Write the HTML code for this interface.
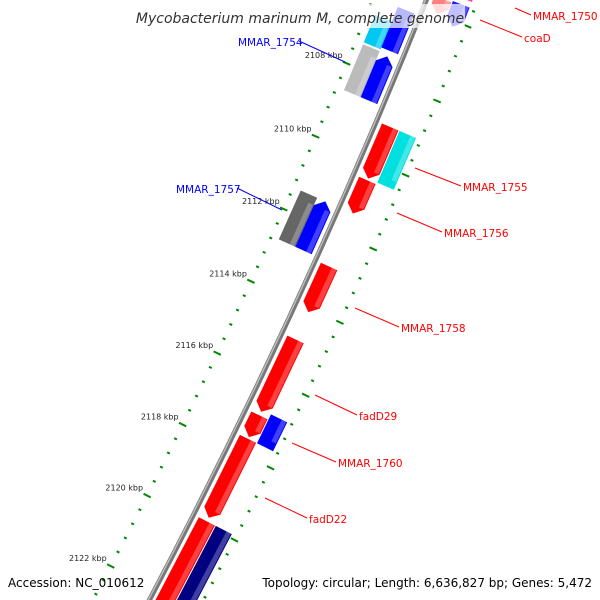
<!DOCTYPE html>
<html><head><meta charset="utf-8"><style>
html,body{margin:0;padding:0;background:#fff;width:600px;height:600px;overflow:hidden}
svg{display:block;font-family:"DejaVu Sans","Liberation Sans",sans-serif;overflow:hidden}
</style></head><body>
<svg id="map" width="600" height="600" viewBox="0 0 600 600" xmlns="http://www.w3.org/2000/svg">
<g id="ticks"></g>
<circle cx="-5484" cy="-2365" r="6366" fill="none" stroke="#777" stroke-width="5"/>
<circle cx="-5484" cy="-2365" r="6365" fill="none" stroke="#bbb" stroke-width="1.5"/>
<g id="feats"></g>
<g id="labels"></g>
<rect x="135" y="4" width="330" height="24" fill="#fff" opacity="0.72"/>
<text x="300" y="23" text-anchor="middle" font-size="14" font-style="oblique" fill="#333">Mycobacterium marinum M, complete genome</text>
<text x="8" y="587" font-size="12" fill="#000">Accession: NC_010612</text>
<text x="592" y="587" text-anchor="end" font-size="12" fill="#000">Topology: circular; Length: 6,636,827 bp; Genes: 5,472</text>
</svg>
<script>
const featStart=[2105.6,2109.05,2110.5,2112.85,2114.85,2116.95,2117.6,2119.9,2105.55,2109.05,2116.8,2119.9,2106.2,2107.45,2111.4,2106.6,2107.4,2111.4,2104.5];
const featEnd=[2106.0,2110.45,2111.4,2114.1,2116.85,2117.55,2119.8,2124.0,2106.15,2110.45,2117.6,2124.0,2107.3,2108.65,2112.75,2107.35,2108.65,2112.75,2105.4];
const featTrack=[1,1,1,1,1,1,1,1,2,2,2,2,-1,-1,-1,-2,-2,-2,2];
const featColor=["#ff8080","#ff0000","#ff0000","#ff0000","#ff0000","#ff0000","#ff0000","#ff0000","#2020ff","#00e0e0","#0000ff","#000080","#0000ff","#0000ff","#0000ff","#00c8f0","#bbbbbb","#666666","#ff40c0"];
const featArrow=[1,1,1,1,1,1,1,0,1,0,0,0,0,1,1,0,0,0,0];
const tickMajor=[2104,2106,2108,2110,2112,2114,2116,2118,2120,2122,2124];
const tickLabels=["2104 kbp","2106 kbp","2108 kbp","2110 kbp","2112 kbp","2114 kbp","2116 kbp","2118 kbp","2120 kbp","2122 kbp","2124 kbp"];
const labelText=["MMAR_1750","coaD","MMAR_1754","MMAR_1755","MMAR_1756","MMAR_1757","MMAR_1758","fadD29","MMAR_1760","fadD22"];
const labelColor=["#f00","#f00","#00f","#f00","#f00","#00f","#f00","#f00","#f00","#f00"];
const labelPos=[[533,20,515,8],[524,42,480,20],[238,46,345,62],[463,191,415,168],[444,237,397,213],[176,193,282,210],[401,332,355,308],[359,420,315,395],[338,467,292,443],[309,523,265,498]];

const CX=-5484,CY=-2365,R0=6366,NS="http://www.w3.org/2000/svg";
function ang(p){return (26.93+(p-2120)*0.36)*Math.PI/180;}
function pt(p,r){const a=ang(p);return [CX+r*Math.cos(a),CY+r*Math.sin(a)];}
function mk(tag,attrs,parent){const e=document.createElementNS(NS,tag);for(const k in attrs)e.setAttribute(k,attrs[k]);parent.appendChild(e);return e;}
const trackR={1:15,2:34,"-1":-15,"-2":-33};
const W=18,H=0.2;
const fg=document.getElementById('feats');
for(let i=0;i<featStart.length;i++){
  const s=featStart[i],e=featEnd[i],t=featTrack[i],r=R0+trackR[t];
  const fwd=t>0;let pts;
  if(!featArrow[i]) pts=[pt(s,r-W/2),pt(e,r-W/2),pt(e,r+W/2),pt(s,r+W/2)];
  else if(fwd) pts=[pt(s,r-W/2),pt(e-H,r-W/2),pt(e,r),pt(e-H,r+W/2),pt(s,r+W/2)];
  else pts=[pt(s+H,r-W/2),pt(e,r-W/2),pt(e,r+W/2),pt(s+H,r+W/2),pt(s,r)];
  const poly=mk('polygon',{points:pts.map(q=>q[0].toFixed(1)+','+q[1].toFixed(1)).join(' '),fill:featColor[i]},fg);
  
  
  const hi=[pt(s+(fwd?0:H),r+W/6),pt(e-(fwd?H:0),r+W/6),pt(e-(fwd?H:0),r+W/2-1),pt(s+(fwd?0:H),r+W/2-1)];
  const sh=mk('polygon',{points:hi.map(q=>q[0].toFixed(1)+','+q[1].toFixed(1)).join(' '),fill:'#fff',opacity:0.25},fg);
  
  
}
const tg=document.getElementById('ticks');
for(const rr of [R0-50,R0+48]){
  for(let k=0;k<=100;k++){
    const p=2104+k*0.4;
    const major=Math.abs(p/2-Math.round(p/2))<1e-6;
    const len=major?4:1.5;
    const a=pt(p,rr-len),b=pt(p,rr+len);
    const ln=mk('line',{x1:a[0],y1:a[1],x2:b[0],y2:b[1],stroke:'#080',"stroke-width":2},tg);
    
    
  }
}
for(let i=0;i<tickMajor.length;i++){
  const q=pt(tickMajor[i],R0-50);
  const tx=mk('text',{x:q[0]-4,y:q[1]-5,"text-anchor":"end","font-size":8,fill:'#222'},tg);
  tx.textContent=tickLabels[i];
  
  
}
const lg=document.getElementById('labels');
for(let i=0;i<labelText.length;i++){
  const [x,y,fx,fy]=labelPos[i];const left=x<fx;
  const ln=mk('line',{x1:fx,y1:fy,x2:left?x+61:x-2,y2:y-5,stroke:labelColor[i],"stroke-width":1},lg);
  
  
  const tx=mk('text',{x:x,y:y,"font-size":10.5,fill:labelColor[i],"text-anchor":"start"},lg);
  tx.textContent=labelText[i];
  
  
}
</script>
</body></html>
